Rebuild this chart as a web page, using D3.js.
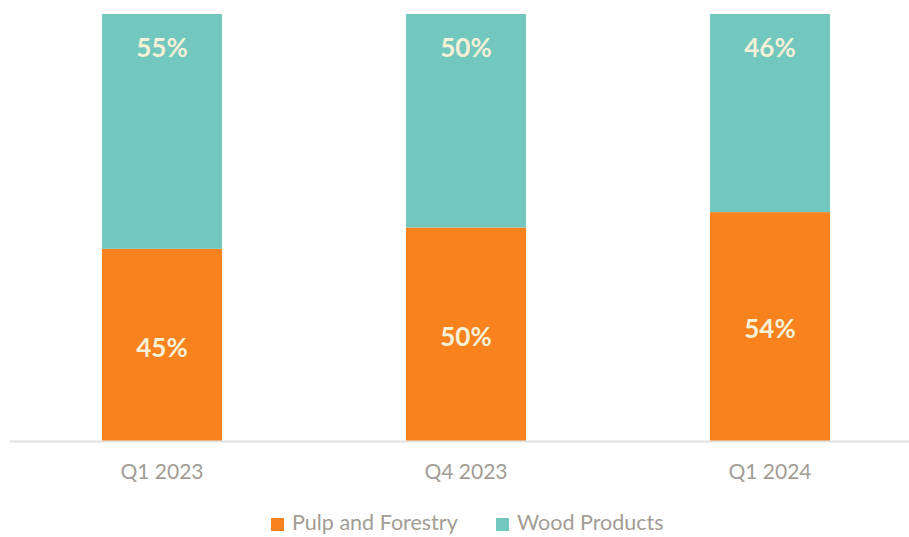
<!DOCTYPE html>
<html><head><meta charset="utf-8">
<script src="https://cdn.jsdelivr.net/npm/d3@7/dist/d3.min.js"></script>
<style>body{margin:0;background:#fff}</style>
</head><body><svg id="c" width="909" height="537"></svg>
<script>
const categories = ["Q1 2023", "Q4 2023", "Q1 2024"];
const pulpForestry = [45, 50, 53.6];
const woodProducts = [55, 50, 46.4];
const seriesNames = ["Pulp and Forestry", "Wood Products"];
const colors = ["#f7821e", "#72c7bf"];

const svg = d3.select("#c");
const font = "Lato, 'Open Sans', sans-serif";
const x = d3.scaleBand().domain(categories).range([10, 922]).paddingInner(0.605).paddingOuter(0.3025);
const y = d3.scaleLinear().domain([0, 100]).range([441, 14]);

const data = categories.map((c, i) => ({cat: c, p: pulpForestry[i], w: woodProducts[i]}));

svg.selectAll(".bp").data(data).join("rect")
  .attr("x", d => x(d.cat)).attr("width", x.bandwidth())
  .attr("y", d => y(d.p)).attr("height", d => y(0) - y(d.p))
  .attr("fill", colors[0]);
svg.selectAll(".bw").data(data).join("rect")
  .attr("x", d => x(d.cat)).attr("width", x.bandwidth())
  .attr("y", d => y(d.p + d.w)).attr("height", d => y(d.p) - y(d.p + d.w))
  .attr("fill", colors[1]);

const ax = svg.append("g").attr("transform", "translate(0,441)").call(d3.axisBottom(x).tickSize(0).tickPadding(23));
ax.select(".domain").remove();
svg.append("line").attr("x1", 10).attr("x2", 909).attr("y1", 441.5).attr("y2", 441.5).attr("stroke", "#e2e2e2").attr("stroke-width", 2);
ax.selectAll("text").attr("font-family", font).attr("font-size", 21).attr("fill", "#a29c94");

svg.selectAll(".lp").data(data).join("text")
  .attr("x", d => x(d.cat) + x.bandwidth() / 2)
  .attr("y", d => (y(d.p) + y(0)) / 2 + 5)
  .attr("text-anchor", "middle").attr("dominant-baseline", "middle")
  .attr("font-family", font).attr("font-weight", "bold").attr("font-size", 26)
  .attr("fill", "#f6f0d6").text(d => Math.round(d.p) + "%");
svg.selectAll(".lw").data(data).join("text")
  .attr("x", d => x(d.cat) + x.bandwidth() / 2)
  .attr("y", d => y(d.p + d.w) + 36)
  .attr("text-anchor", "middle").attr("dominant-baseline", "middle")
  .attr("font-family", font).attr("font-weight", "bold").attr("font-size", 26)
  .attr("fill", "#f6f0d6").text(d => Math.round(d.w) + "%");

const lg = [{n: seriesNames[0], c: colors[0], x: 271}, {n: seriesNames[1], c: colors[1], x: 496}];
const g = svg.selectAll(".lg").data(lg).join("g").attr("transform", d => `translate(${d.x},518)`);
g.append("rect").attr("width", 13).attr("height", 13).attr("fill", d => d.c);
g.append("text").attr("x", 21).attr("y", 7).attr("dominant-baseline", "middle")
  .attr("font-family", font).attr("font-size", 21.5).attr("fill", "#a29c94").text(d => d.n);
</script></body></html>
